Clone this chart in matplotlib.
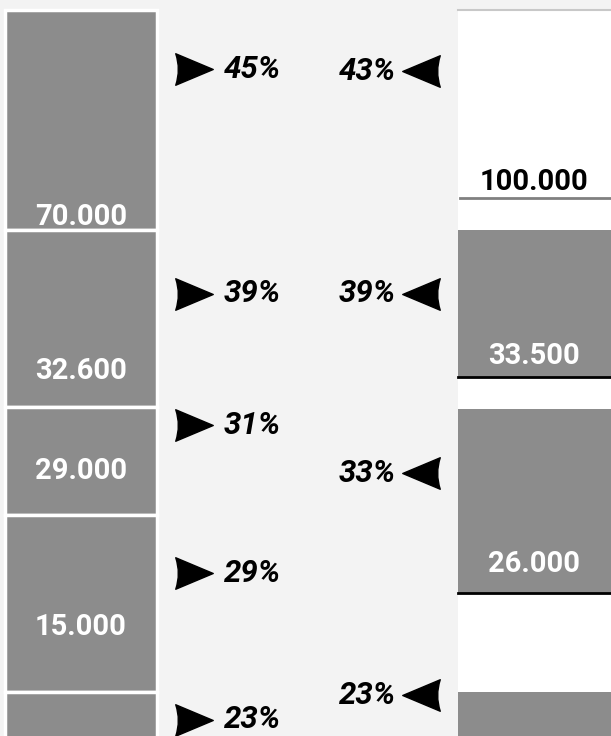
import matplotlib.pyplot as plt
import numpy as np
from matplotlib.path import Path

# left column: stacked segments (top/bottom in chart units) and their labels
left_top = [10, 230, 406.5, 515, 691.5]
left_bottom = [230, 406.5, 515, 691.5, 745]
left_labels = ['70.000', '32.600', '29.000', '15.000', '']
left_label_y = [217, 371, 471, 627, None]

# right column: gray blocks and labels
right_top = [230, 409, 692]
right_bottom = [377, 593, 745]
right_labels = ['33.500', '26.000', '']
right_label_y = [356, 564, None]
total_label = '100.000'
total_y = 198

# percentages next to the arrows
left_pct = ['45%', '39%', '31%', '29%', '23%']
left_pct_y = [69, 294, 425, 573, 720]
right_pct = ['43%', '39%', '33%', '23%']
right_pct_y = [71, 294, 473, 695]

bar_color = '#8c8c8c'
bg = '#f3f3f3'
font = ['Roboto', 'DejaVu Sans']

fig = plt.figure(figsize=(6.11, 7.36), dpi=100, facecolor=bg)
ax = fig.add_axes([0, 0, 1, 1])
ax.set_facecolor(bg)
ax.set_xlim(0, 611)
ax.set_ylim(736, 0)
ax.axis('off')

# left stacked bars
h = np.array(left_bottom) - np.array(left_top)
ax.bar(81, h, bottom=left_top, width=152, color=bar_color, edgecolor='white', linewidth=2.5)
for lab, y in zip(left_labels, left_label_y):
    if lab:
        ax.text(81, y, lab, color='white', fontsize=21, fontweight='bold',
                family=font, ha='center', va='center')

# right column background + blocks
ax.bar(534.5, 745 - 10, bottom=10, width=153, color='white', linewidth=0)
ax.plot([458, 611], [10, 10], color='#c8c8c8', lw=1.5)
ax.plot([460, 611], [total_y, total_y], color='#808080', lw=2)
ax.text(534, 182, total_label, color='black', fontsize=21, fontweight='bold',
        family=font, ha='center', va='center')
rh = np.array(right_bottom) - np.array(right_top)
ax.bar(534.5, rh, bottom=right_top, width=153, color=bar_color, linewidth=0)
for b in right_bottom[:2]:
    ax.plot([458, 611], [b, b], color='black', lw=2)
for lab, y in zip(right_labels, right_label_y):
    if lab:
        ax.text(534, y, lab, color='white', fontsize=21, fontweight='bold',
                family=font, ha='center', va='center')

# arrow marker with concave back
verts = [(-1, 0.84), (1, 0), (-1, -0.84), (-0.72, 0), (-1, 0.84), (-1, 0.84)]
codes = [Path.MOVETO, Path.LINETO, Path.LINETO, Path.CURVE3, Path.CURVE3, Path.CLOSEPOLY]
arrow_r = Path(verts, codes)
arrow_l = Path([(-x, y) for x, y in verts], codes)

ax.plot([194] * len(left_pct_y), left_pct_y, ls='none', marker=arrow_r,
        markersize=27, color='black')
ax.plot([421] * len(right_pct_y), right_pct_y, ls='none', marker=arrow_l,
        markersize=27, color='black')
for t, y in zip(left_pct, left_pct_y):
    ax.text(224, y, t, fontsize=22.5, fontweight='bold', style='italic',
            family=font, ha='left', va='center')
for t, y in zip(right_pct, right_pct_y):
    ax.text(396, y, t, fontsize=22.5, fontweight='bold', style='italic',
            family=font, ha='right', va='center')

fig.savefig('out.png', dpi=100, facecolor=bg)
